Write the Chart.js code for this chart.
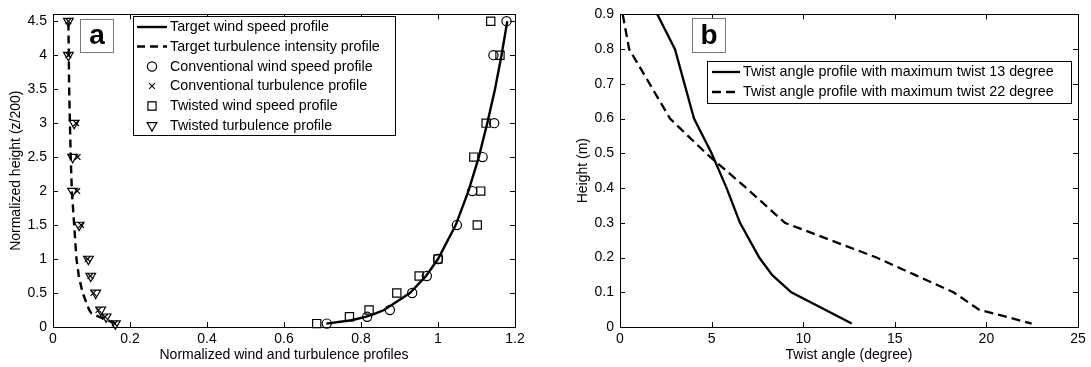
<!DOCTYPE html>
<html><head><meta charset="utf-8">
<script src="https://cdn.jsdelivr.net/npm/chart.js@4/dist/chart.umd.min.js"></script>
<style>
html,body{margin:0;padding:0;background:#fff;}
#wrap{position:relative;width:1091px;height:367px;overflow:hidden;}
#ca{position:absolute;left:0;top:0;}
#cb{position:absolute;left:545px;top:0;}
</style></head><body>
<div id="wrap">
<canvas id="ca" width="545" height="367"></canvas>
<canvas id="cb" width="546" height="367"></canvas>
</div>
<script>
// ---------- Panel a data ----------
const heightsA   = [0.05, 0.15, 0.25, 0.5, 0.75, 1, 1.5, 2, 2.5, 3, 4, 4.5];
const convWind   = [0.711, 0.816, 0.875, 0.933, 0.971, 1.0, 1.049, 1.089, 1.116, 1.146, 1.144, 1.178];
const twistWind  = [0.685, 0.770, 0.821, 0.893, 0.951, 1.0, 1.102, 1.111, 1.093, 1.125, 1.161, 1.137];
const convTurb   = [0.160, 0.135, 0.118, 0.105, 0.097, 0.090, 0.073, 0.063, 0.064, 0.060, 0.040, 0.040];
const twistTurb  = [0.162, 0.138, 0.124, 0.111, 0.098, 0.092, 0.068, 0.051, 0.051, 0.055, 0.040, 0.040];
const targetWindHeights = [0.05, 0.1, 0.15, 0.2, 0.25, 0.5, 0.75, 1, 1.5, 2, 2.5, 3, 3.5, 4, 4.5];
const targetWind        = [0.71, 0.775, 0.812, 0.838, 0.86, 0.927, 0.969, 1.0, 1.046, 1.079, 1.106, 1.128, 1.148, 1.165, 1.18];
const targetTurbHeights = [0.05, 0.15, 0.2, 0.25, 0.5, 0.75, 1, 1.5, 2, 2.5, 3, 3.5, 4, 4.5];
const targetTurb        = [0.163, 0.12, 0.1, 0.094, 0.077, 0.067, 0.061, 0.055, 0.049, 0.046, 0.044, 0.042, 0.041, 0.040];
const xTicksA = [0, 0.2, 0.4, 0.6, 0.8, 1, 1.2];
const xTickLabelsA = ['0', '0.2', '0.4', '0.6', '0.8', '1', '1.2'];
const yTicksA = [0, 0.5, 1, 1.5, 2, 2.5, 3, 3.5, 4, 4.5];
const yTickLabelsA = ['0', '0.5', '1', '1.5', '2', '2.5', '3', '3.5', '4', '4.5'];

// ---------- Panel b data ----------
const heights13 = [0.9, 0.8, 0.7, 0.6, 0.5, 0.4, 0.3, 0.2, 0.15, 0.1, 0.01];
const twist13   = [2.04, 3.0, 3.52, 4.04, 5.0, 5.82, 6.55, 7.6, 8.3, 9.35, 12.65];
const heights22 = [0.9, 0.8, 0.7, 0.6, 0.5, 0.4, 0.3, 0.2, 0.15, 0.1, 0.05, 0.01];
const twist22   = [0.15, 0.5, 1.62, 2.73, 4.7, 6.9, 9.0, 14.0, 16.1, 18.2, 19.6, 22.47];
const xTicksB = [0, 5, 10, 15, 20, 25];
const xTickLabelsB = ['0', '5', '10', '15', '20', '25'];
const yTicksB = [0, 0.1, 0.2, 0.3, 0.4, 0.5, 0.6, 0.7, 0.8, 0.9];
const yTickLabelsB = ['0', '0.1', '0.2', '0.3', '0.4', '0.5', '0.6', '0.7', '0.8', '0.9'];

const FONT = '"Liberation Sans", Arial, Helvetica, sans-serif';
Chart.defaults.font.family = FONT;
Chart.defaults.color = '#000';

function pts(xs, ys) { return xs.map((v, i) => ({x: v, y: ys[i]})); }

function drawMarker(ctx, style, r, x, y, rot) {
  ctx.beginPath();
  if (style === 'circle') { ctx.arc(x, y, r, 0, Math.PI * 2); }
  else if (style === 'rect') { const s = Math.SQRT1_2 * r; ctx.rect(x - s, y - s, 2 * s, 2 * s); }
  else if (style === 'crossRot') { const s = Math.SQRT1_2 * r; ctx.moveTo(x - s, y - s); ctx.lineTo(x + s, y + s); ctx.moveTo(x + s, y - s); ctx.lineTo(x - s, y + s); }
  else if (style === 'triangle') {
    let a = (rot || 0) * Math.PI / 180;
    ctx.moveTo(x + Math.sin(a) * r, y - Math.cos(a) * r);
    a += 2 * Math.PI / 3; ctx.lineTo(x + Math.sin(a) * r, y - Math.cos(a) * r);
    a += 2 * Math.PI / 3; ctx.lineTo(x + Math.sin(a) * r, y - Math.cos(a) * r);
    ctx.closePath();
  }
  ctx.stroke();
}

const framePlugin = {
  id: 'frame',
  afterDraw(chart, args, o) {
    const ctx = chart.ctx;
    const {left, right, top, bottom} = chart.chartArea;
    const sx = chart.scales.x, sy = chart.scales.y;
    ctx.save();
    ctx.strokeStyle = '#000'; ctx.lineWidth = 1;
    ctx.beginPath();
    const L = 5;
    sx.ticks.forEach(t => {
      const p = Math.round(sx.getPixelForValue(t.value)) + 0.5;
      ctx.moveTo(p, bottom); ctx.lineTo(p, bottom - L);
      ctx.moveTo(p, top); ctx.lineTo(p, top + L);
    });
    sy.ticks.forEach(t => {
      const p = Math.round(sy.getPixelForValue(t.value)) + 0.5;
      ctx.moveTo(left, p); ctx.lineTo(left + L, p);
      ctx.moveTo(right, p); ctx.lineTo(right - L, p);
    });
    ctx.stroke();
    ctx.strokeRect(Math.round(left) + 0.5, Math.round(top) + 0.5, Math.round(right - left), Math.round(bottom - top));

    // panel letter box
    const lb = o.letter;
    ctx.strokeStyle = '#777'; ctx.lineWidth = 1;
    ctx.fillStyle = '#fff';
    ctx.fillRect(lb.x, lb.y, lb.w, lb.h);
    ctx.strokeRect(lb.x + 0.5, lb.y + 0.5, lb.w, lb.h);
    ctx.fillStyle = '#000';
    ctx.font = 'bold 28px ' + FONT;
    ctx.textAlign = 'center'; ctx.textBaseline = 'middle';
    ctx.fillText(lb.text, lb.x + lb.w / 2 + 0.5, lb.y + lb.h / 2 + 1);

    // legend
    const lg = o.legend;
    ctx.fillStyle = '#fff';
    ctx.fillRect(lg.x, lg.y, lg.w, lg.h);
    ctx.strokeStyle = '#000'; ctx.lineWidth = 1;
    ctx.strokeRect(lg.x + 0.5, lg.y + 0.5, lg.w, lg.h);
    ctx.font = lg.font + 'px ' + FONT;
    ctx.textAlign = 'left'; ctx.textBaseline = 'middle';
    lg.order.forEach((di, k) => {
      const ds = chart.data.datasets[di];
      const yy = lg.rows[k];
      ctx.strokeStyle = '#000';
      if (ds.showLine) {
        ctx.lineWidth = ds.borderWidth;
        ctx.setLineDash(ds.borderDash || []);
        ctx.beginPath(); ctx.moveTo(lg.s1, yy); ctx.lineTo(lg.s2, yy); ctx.stroke();
        ctx.setLineDash([]);
      } else {
        ctx.lineWidth = ds.pointBorderWidth;
        drawMarker(ctx, ds.pointStyle, ds.pointRadius, (lg.s1 + lg.s2) / 2, yy, ds.pointRotation);
      }
      ctx.fillStyle = '#000';
      ctx.fillText(ds.label, lg.tx, yy + 0.5);
    });
    ctx.restore();
  }
};

function markerDs(label, xs, ys, style, r, rot) {
  return {label, data: pts(xs, ys), showLine: false, pointStyle: style, pointRadius: r,
    pointHoverRadius: r, pointRotation: rot || 0, pointBorderColor: '#000', pointBackgroundColor: 'rgba(0,0,0,0)',
    pointBorderWidth: 1.2, borderColor: '#000', clip: false};
}
function lineDs(label, xs, ys, dash, w) {
  return {label, data: pts(xs, ys), showLine: true, borderColor: '#000', borderWidth: w,
    borderDash: dash, pointRadius: 0, pointHoverRadius: 0, tension: 0, clip: false, pointStyle: 'line'};
}

function axes(xmin, xmax, xt, xl, ymin, ymax, yt, yl, xTitle, yTitle, yw, yTitlePad) {
  return {
    x: {type: 'linear', min: xmin, max: xmax,
      afterBuildTicks: s => { s.ticks = xt.map(v => ({value: v})); },
      afterFit: s => { s.height = 40; },
      grid: {display: false, drawTicks: false}, border: {display: false},
      ticks: {padding: 4, font: {size: 14}, maxRotation: 0, autoSkip: false,
        callback: (v) => { const i = xt.indexOf(v); return i >= 0 ? xl[i] : ''; }},
      title: {display: true, text: xTitle, font: {size: 14}, padding: {top: 0, bottom: 3}}},
    y: {type: 'linear', min: ymin, max: ymax,
      afterBuildTicks: s => { s.ticks = yt.map(v => ({value: v})); },
      afterFit: s => { s.width = yw; },
      grid: {display: false, drawTicks: false}, border: {display: false},
      ticks: {padding: 6, font: {size: 14}, autoSkip: false,
        callback: (v) => { const i = yt.indexOf(v); return i >= 0 ? yl[i] : ''; }},
      title: {display: true, text: yTitle, font: {size: 14}, padding: {top: yTitlePad, bottom: 0}}}
  };
}

new Chart(document.getElementById('ca'), {
  type: 'scatter',
  data: {datasets: [
    lineDs('Target wind speed profile', targetWind, targetWindHeights, [], 2.4),
    lineDs('Target turbulence intensity profile', targetTurb, targetTurbHeights, [8, 5], 2.4),
    markerDs('Conventional wind speed profile', convWind, heightsA, 'circle', 4.6),
    markerDs('Conventional turbulence profile', convTurb, heightsA, 'crossRot', 4),
    markerDs('Twisted wind speed profile', twistWind, heightsA, 'rect', 5.8),
    markerDs('Twisted turbulence profile', twistTurb, heightsA, 'triangle', 5.6, 180)
  ]},
  options: {
    responsive: false, animation: false, events: [],
    layout: {padding: {left: 0, top: 11, right: 30, bottom: 0}},
    scales: axes(0, 1.2, xTicksA, xTickLabelsA, 0, 4.6, yTicksA, yTickLabelsA,
      'Normalized wind and turbulence profiles', 'Normalized height (z/200)', 53, 8),
    plugins: {legend: {display: false}, tooltip: {enabled: false},
      frame: {letter: {x: 80, y: 19, w: 33, h: 33, text: 'a'},
        legend: {x: 133, y: 16, w: 262, h: 119, font: 14.3, rows: [27, 46.5, 66.5, 86, 106, 125.5],
          order: [0, 1, 2, 3, 4, 5], s1: 137, s2: 167, tx: 170}}}
  },
  plugins: [framePlugin]
});

new Chart(document.getElementById('cb'), {
  type: 'scatter',
  data: {datasets: [
    lineDs('Twist angle profile with maximum twist 13 degree', twist13, heights13, [], 2.3),
    lineDs('Twist angle profile with maximum twist 22 degree', twist22, heights22, [9, 5], 2.3)
  ]},
  options: {
    responsive: false, animation: false, events: [],
    layout: {padding: {left: 0, top: 12, right: 13, bottom: 0}},
    scales: axes(0, 25, xTicksB, xTickLabelsB, 0, 0.9, yTicksB, yTickLabelsB,
      'Twist angle (degree)', 'Height (m)', 75, 30),
    plugins: {legend: {display: false}, tooltip: {enabled: false},
      frame: {letter: {x: 147, y: 18, w: 33, h: 34, text: 'b'},
        legend: {x: 162, y: 61, w: 364, h: 42, font: 14.3, rows: [72, 92],
          order: [0, 1], s1: 167, s2: 195, tx: 198}}}
  },
  plugins: [framePlugin]
});
</script>
</body></html>
